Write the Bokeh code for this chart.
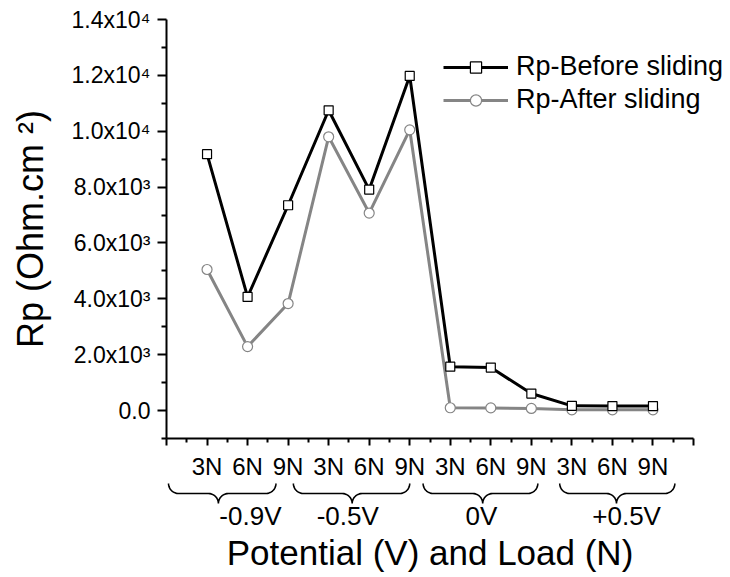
import numpy as np
from bokeh.plotting import figure
from bokeh.models import Range1d, FixedTicker, Legend, LegendItem, ColumnDataSource
from bokeh.layouts import column
from bokeh.embed import file_html
from bokeh.resources import INLINE
from bokeh.core.properties import value

# ---------------- data ----------------
potentials = ["-0.9V", "-0.5V", "0V", "+0.5V"]
loads = ["3N", "6N", "9N"]
rp_before = [9180, 4070, 7350, 10750, 7910, 11980, 1570, 1540, 610, 170, 160, 160]
rp_after = [5050, 2290, 3830, 9800, 7070, 10050, 100, 95, 75, 25, 25, 25]
y_tick_values = [0, 2000, 4000, 6000, 8000, 10000, 12000, 14000]
y_tick_labels = ["0.0", "2.0x10³", "4.0x10³", "6.0x10³", "8.0x10³",
                 "1.0x10⁴", "1.2x10⁴", "1.4x10⁴"]
# curly-brace spans (in x-axis units) for each potential group
brace_start = [0.05, 3.13, 6.33, 9.70]
brace_tip = [1.28, 4.58, 7.80, 11.10]
brace_end = [2.70, 6.00, 9.16, 12.54]
group_label_x = [2.07, 4.47, 7.77, 11.35]

FONT = "Liberation Sans"
GRAY = "#858585"

n = len(potentials) * len(loads)
xs = list(range(1, n + 1))
x_labels = {0: "", n + 1: ""}
for i in xs:
    x_labels[i] = loads[(i - 1) % len(loads)]

W, H1, H2 = 730, 482, 95
LEFT, RIGHT, TOP, BOTTOM = 166, 2, 19, 40
AXIS_RIGHT_PX = 693          # where the drawn x axis ends
X0, X1 = 0, n + 1
px_per_unit = (AXIS_RIGHT_PX - LEFT) / (X1 - X0)
X_END = X1 + (W - RIGHT - AXIS_RIGHT_PX) / px_per_unit

# ---------------- main figure ----------------
p = figure(width=W, height=H1, x_range=Range1d(X0, X_END), y_range=Range1d(-1000, 14000),
           output_backend="svg", toolbar_location=None,
           min_border_left=LEFT, min_border_right=RIGHT,
           min_border_top=TOP, min_border_bottom=BOTTOM)
p.outline_line_color = None
p.grid.visible = False
p.background_fill_color = "white"

src = ColumnDataSource(dict(x=xs, before=rp_before, after=rp_after))
la = p.line("x", "after", source=src, line_color=GRAY, line_width=3)
lb = p.line("x", "before", source=src, line_color="black", line_width=3)
sa = p.scatter("x", "after", source=src, marker="circle", size=10,
               fill_color="white", line_color=GRAY, line_width=1.2)
sb = p.scatter("x", "before", source=src, marker="square", size=9,
               fill_color="white", line_color="black", line_width=1.2)

# y axis
ya = p.yaxis[0]
ya.ticker = FixedTicker(ticks=y_tick_values,
                        minor_ticks=[v + 1000 for v in [-2000] + y_tick_values[:-1]])
ya.major_label_overrides = {v: t for v, t in zip(y_tick_values, y_tick_labels)}
ya.axis_label = "Rp (Ohm.cm ²)"
ya.axis_label_text_font = FONT
ya.axis_label_text_font_size = "36px"
ya.axis_label_text_font_style = "normal"
ya.axis_label_standoff = 18
ya.major_label_text_font = FONT
ya.major_label_text_font_size = "23px"
ya.major_label_standoff = 7

# x axis
xa = p.xaxis[0]
xa.bounds = (X0, X1)
xa.ticker = FixedTicker(ticks=list(range(X0, X1 + 1)),
                        minor_ticks=[i + 0.5 for i in range(X0, X1)])
xa.major_label_overrides = x_labels
xa.major_label_text_font = FONT
xa.major_label_text_font_size = "24px"
xa.major_label_standoff = 7

for ax in (xa, ya):
    ax.axis_line_width = 2
    ax.major_tick_line_width = 2
    ax.minor_tick_line_width = 2
    ax.major_tick_in = 0
    ax.minor_tick_in = 0
    ax.major_label_text_color = "black"
    ax.axis_label_text_color = "black"
ya.major_tick_out = 9
ya.minor_tick_out = 5
xa.major_tick_out = 7
xa.minor_tick_out = 4

legend = Legend(items=[LegendItem(label="Rp-Before sliding", renderers=[lb, sb]),
                       LegendItem(label="Rp-After sliding", renderers=[la, sa])],
                location=(277, 323), glyph_width=65, glyph_height=28,
                label_text_font=FONT, label_text_font_size="27px",
                label_text_color="black",
                label_standoff=8, spacing=2, padding=0, margin=0,
                border_line_color=None, background_fill_alpha=0)
p.add_layout(legend)

# ---------------- brace / group-label strip ----------------
p2 = figure(width=W, height=H2, x_range=p.x_range, y_range=Range1d(H2, 0),
            output_backend="svg", toolbar_location=None,
            x_axis_location=None, y_axis_location=None,
            min_border_left=LEFT, min_border_right=RIGHT,
            min_border_top=0, min_border_bottom=0)
p2.outline_line_color = None
p2.grid.visible = False

rx = 10 / px_per_unit
top, ry = 1, 10
t = np.linspace(0, np.pi / 2, 12)
bx, by = [], []
for a, m, b in zip(brace_start, brace_tip, brace_end):
    lx = list(a + rx - rx * np.cos(t)) + list(m - rx + rx * np.sin(t))
    ly = list(top + ry * np.sin(t)) + list(top + ry + ry * (1 - np.cos(t)))
    rxs = list(b - rx + rx * np.cos(t)) + list(m + rx - rx * np.sin(t))
    rys = list(top + ry * np.sin(t)) + list(top + ry + ry * (1 - np.cos(t)))
    bx.append(lx + rxs[::-1])
    by.append(ly + rys[::-1])
p2.multi_line(bx, by, line_color="black", line_width=1.6)

p2.text(x=group_label_x, y=[33] * len(potentials), text=potentials,
        text_font=value(FONT), text_font_size="26px", text_align="center",
        text_baseline="middle", text_color="black")
p2.text(x=[(X0 + X1) / 2], y=[70], text=["Potential (V) and Load (N)"],
        text_font=value(FONT), text_font_size="35px", text_align="center",
        text_baseline="middle", text_color="black")

layout = column(p, p2, spacing=0)
open("out.html", "w").write(file_html(layout, INLINE))
